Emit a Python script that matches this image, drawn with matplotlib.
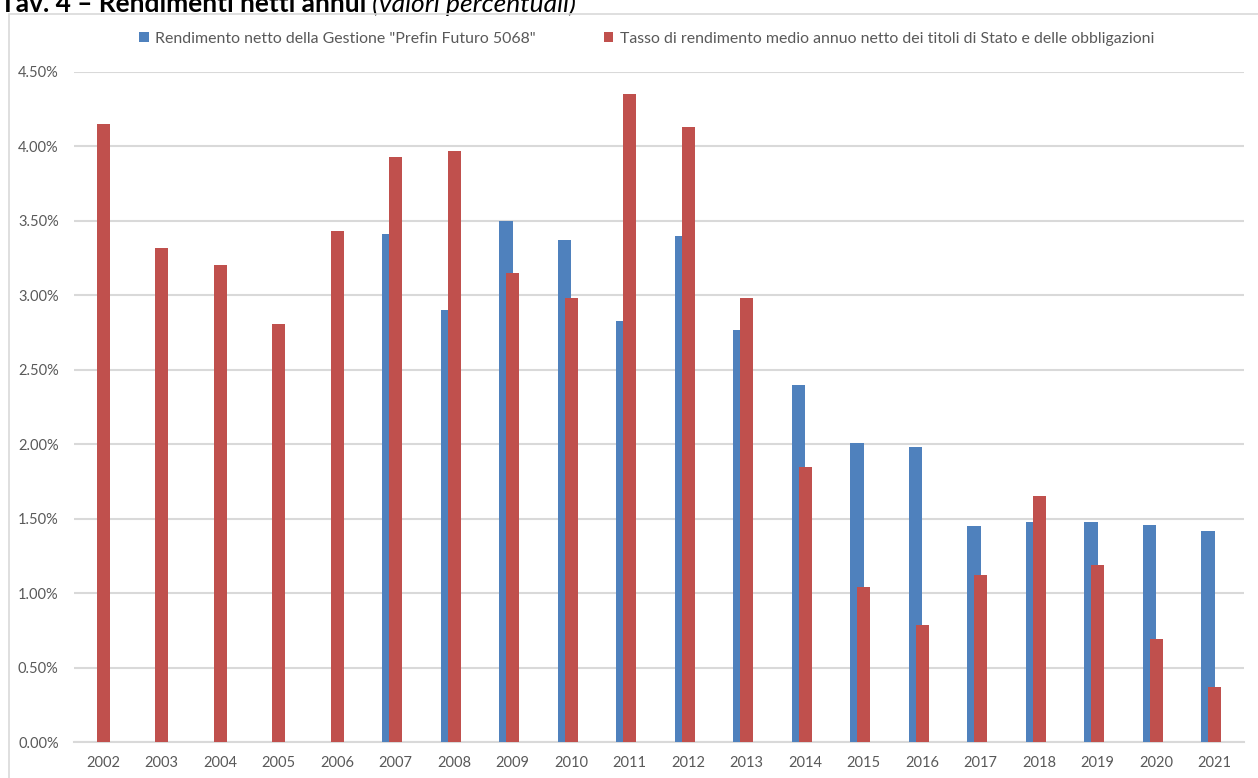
import numpy as np
import matplotlib.pyplot as plt
from matplotlib.patches import Rectangle
from matplotlib.ticker import FuncFormatter

plt.rcParams["font.family"] = ["Lato", "DejaVu Sans"]

years = [str(y) for y in range(2002, 2022)]

# Rendimento netto della Gestione "Prefin Futuro 5068" (%), no data before 2007
gestione = [np.nan, np.nan, np.nan, np.nan, np.nan,
            3.41, 2.90, 3.50, 3.37, 2.83, 3.40, 2.77, 2.40, 2.01, 1.98,
            1.45, 1.48, 1.48, 1.46, 1.42]
# Tasso medio annuo netto titoli di Stato e obbligazioni (%)
titoli = [4.15, 3.32, 3.20, 2.81, 3.43, 3.93, 3.97, 3.15, 2.98, 4.35,
          4.13, 2.98, 1.85, 1.04, 0.79, 1.12, 1.65, 1.19, 0.69, 0.37]

label_gestione = 'Rendimento netto della Gestione "Prefin Futuro 5068"'
label_titoli = "Tasso di rendimento medio annuo netto dei titoli di Stato e delle obbligazioni"

blue = "#4F81BD"
red = "#C0504D"
grid_col = "#D9D9D9"
text_col = "#595959"

fig = plt.figure(figsize=(12.58, 7.78), dpi=100)
ax = fig.add_axes([74 / 1258, 1 - 742.3 / 778, 1170 / 1258, (742.3 - 71.7) / 778])

x = np.arange(len(years))
w = 0.228
# red bars sit centred on the tick, blue ones just to their left
ax.bar(x - w, gestione, width=w, align="edge", color=blue, label=label_gestione, zorder=3)
ax.bar(x, titoli, width=w, align="center", color=red, label=label_titoli, zorder=3)

ax.set_xlim(-0.5, len(years) - 0.5)
ax.set_ylim(0, 4.5)
ax.set_yticks(np.arange(0, 4.51, 0.5))
ax.yaxis.set_major_formatter(FuncFormatter(lambda v, _: f"{v:.2f}%"))
ax.set_xticks(x)
ax.set_xticklabels(years)

ax.grid(axis="y", color=grid_col, linewidth=1.5, zorder=0)
for s in ["top", "right", "left"]:
    ax.spines[s].set_visible(False)
ax.spines["bottom"].set_color(grid_col)
ax.spines["bottom"].set_linewidth(1.5)
ax.tick_params(axis="both", length=0, labelsize=10.5, labelcolor=text_col)
ax.tick_params(axis="x", pad=10)
ax.tick_params(axis="y", pad=11)

fig.legend(loc="center", bbox_to_anchor=(0.514, 1 - 39 / 778), ncol=2, frameon=False,
           fontsize=11.4, labelcolor=text_col, handlelength=0.6, handleheight=0.6,
           handletextpad=0.4, columnspacing=4.3)

# chart frame
fig.add_artist(Rectangle((9 / 1258, -0.1), 1.2, 1.1 - 14 / 778, transform=fig.transFigure,
                         fill=False, edgecolor=grid_col, linewidth=1.2))

# title, clipped at the top like the source
t1 = fig.text(0.0, 1 - 12 / 778, "Tav. 4 – Rendimenti netti annui", fontsize=19,
              fontweight="bold", color="black", va="baseline", ha="left")
ax.annotate(" (valori percentuali)", xy=(1, 0), xycoords=t1, fontsize=19,
            fontstyle="italic", color="black", va="bottom", ha="left",
            annotation_clip=False)

fig.savefig("out.png", dpi=100)
